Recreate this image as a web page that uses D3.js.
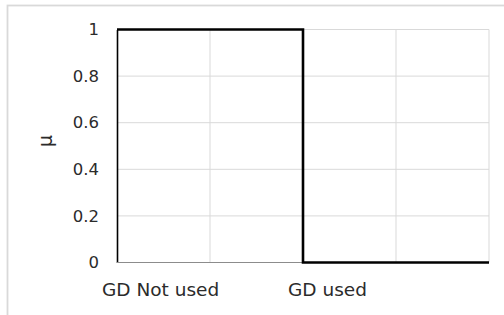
<!DOCTYPE html>
<html><head><meta charset="utf-8">
<script src="https://cdn.jsdelivr.net/npm/d3@7"></script>
<style>html,body{margin:0;padding:0;background:#fff;}</style>
</head><body>
<script>
const stepX = [0, 2, 2, 4];
const stepY = [1, 1, 0, 0];
const yTicks = [0, 0.2, 0.4, 0.6, 0.8, 1];
const xGrid = [1, 2, 3, 4];
const categoryLabels = ["GD Not used", "GD used"];
const categoryPos = [0, 2];
const yLabel = "μ";

const W = 504, H = 315;
const m = {left: 117, right: 15, top: 29.5, bottom: 52.5};
const svg = d3.select("body").append("svg").attr("width", W).attr("height", H);

svg.append("rect").attr("x", 7.5).attr("y", 5.5).attr("width", 540).attr("height", 340)
  .attr("fill", "#fff").attr("stroke", "#d9d9d9").attr("stroke-width", 1.8);

const x = d3.scaleLinear().domain([0, 4]).range([m.left, W - m.right]);
const y = d3.scaleLinear().domain([0, 1]).range([H - m.bottom, m.top]);

const g = svg.append("g");
g.selectAll(".hg").data(yTicks.filter(d => d > 0)).join("line")
  .attr("x1", x(0)).attr("x2", x(4)).attr("y1", d => y(d)).attr("y2", d => y(d))
  .attr("stroke", "#d9d9d9").attr("stroke-width", 1);
g.selectAll(".vg").data(xGrid).join("line")
  .attr("x1", d => x(d)).attr("x2", d => x(d)).attr("y1", y(0)).attr("y2", y(1))
  .attr("stroke", "#d9d9d9").attr("stroke-width", 1);

const yAxis = d3.axisLeft(y).tickValues(yTicks).tickSize(0).tickPadding(18)
  .tickFormat(d => d3.format("~g")(d));
const ya = svg.append("g").attr("transform", `translate(${x(0)},0)`).call(yAxis);
ya.select(".domain").attr("stroke", "#000").attr("stroke-width", 1.6);
ya.selectAll("text").attr("font-family", "DejaVu Sans, sans-serif").attr("font-size", 16.5)
  .attr("fill", "#2b2b2b");

svg.append("line").attr("x1", x(0)).attr("x2", x(4)).attr("y1", y(0)).attr("y2", y(0))
  .attr("stroke", "#8c8c8c").attr("stroke-width", 1.2);

svg.selectAll(".cat").data(categoryLabels).join("text")
  .attr("x", (d, i) => x(categoryPos[i]) - 15).attr("y", y(0) + 33)
  .attr("font-family", "DejaVu Sans, sans-serif").attr("font-size", 18.5)
  .attr("fill", "#2b2b2b").text(d => d);

svg.append("text").attr("transform", `translate(52,141) rotate(-90)`)
  .attr("text-anchor", "middle").attr("font-family", "DejaVu Sans, sans-serif")
  .attr("font-size", 19).attr("fill", "#2b2b2b").text(yLabel);

const pts = stepX.map((d, i) => [d, stepY[i]]);
svg.append("path").datum(pts)
  .attr("d", d3.line().x(d => x(d[0])).y(d => y(d[1])))
  .attr("fill", "none").attr("stroke", "#000").attr("stroke-width", 2.6)
  .attr("stroke-linejoin", "miter");
</script>
</body></html>
